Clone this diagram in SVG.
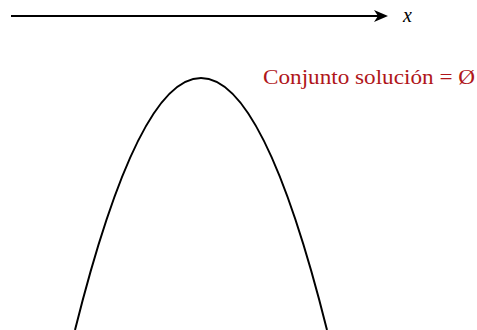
<svg xmlns="http://www.w3.org/2000/svg" width="477" height="330" viewBox="0 0 477 330">
<style>
.ln{fill:none;stroke:#000;stroke-width:2}
.lbl{font-family:"Liberation Serif","DejaVu Serif",serif;font-size:20px}
</style>
<rect width="477" height="330" fill="#fff"/>
<g id="connectors">
<line class="ln" x1="11" y1="16" x2="380" y2="16"/>
<path d="M388,16 L374,10 L378,16 L374,22 Z" fill="#000"/>
</g>
<text class="lbl" x="403" y="22" font-style="italic" font-size="21px" fill="#000">x</text>
<g id="parabola">
<path class="ln" d="M75,330 Q201,-174 327,330"/>
</g>
<text class="lbl" x="263" y="84" fill="#B0161A" textLength="212" lengthAdjust="spacingAndGlyphs">Conjunto solución = Ø</text>
</svg>
